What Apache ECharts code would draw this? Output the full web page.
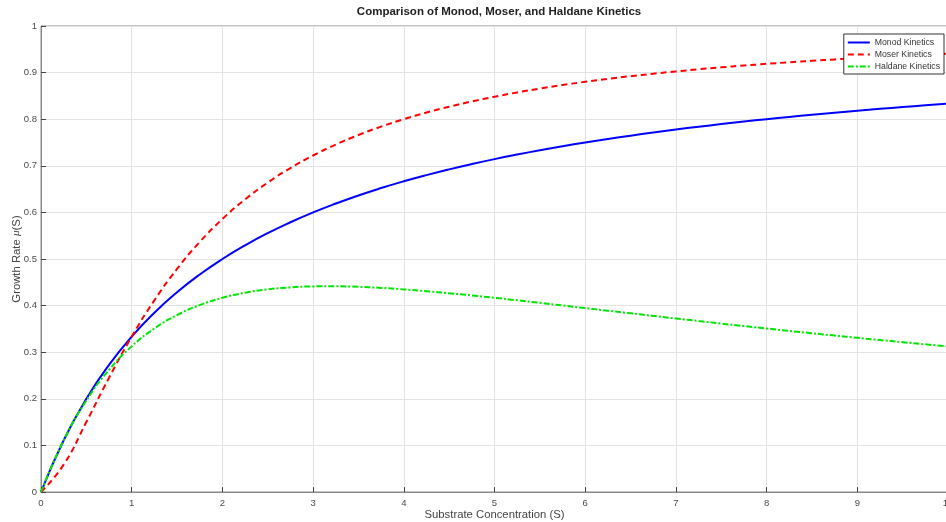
<!DOCTYPE html>
<html>
<head>
<meta charset="utf-8">
<script src="https://cdn.jsdelivr.net/npm/echarts@6/dist/echarts.min.js"></script>
<style>html,body{margin:0;padding:0;background:#fff;}#c{width:946px;height:522px;}</style>
</head>
<body>
<div id="c"></div>
<script>
const sValues = [0,0.25,0.5,0.75,1,1.25,1.5,1.75,2,2.25,2.5,2.75,3,3.25,3.5,3.75,4,4.25,4.5,4.75,5,5.25,5.5,5.75,6,6.25,6.5,6.75,7,7.25,7.5,7.75,8,8.25,8.5,8.75,9,9.25,9.5,9.75,10];
const monod = [0,0.1111,0.2,0.2727,0.3333,0.3846,0.4286,0.4667,0.5,0.5294,0.5556,0.5789,0.6,0.6190,0.6364,0.6522,0.6667,0.68,0.6923,0.7037,0.7143,0.7241,0.7333,0.7419,0.75,0.7576,0.7647,0.7714,0.7778,0.7838,0.7895,0.7949,0.8,0.8049,0.8095,0.8140,0.8182,0.8222,0.8261,0.8298,0.8333];
const moser = [0,0.0588,0.1502,0.2451,0.3333,0.4113,0.4788,0.5365,0.5858,0.6279,0.6640,0.6951,0.7221,0.7455,0.7660,0.7841,0.8,0.8142,0.8268,0.8381,0.8483,0.8574,0.8658,0.8733,0.8802,0.8865,0.8923,0.8976,0.9025,0.9071,0.9113,0.9152,0.9188,0.9222,0.9253,0.9283,0.9310,0.9336,0.9361,0.9384,0.9405];
const haldane = [0,0.1105,0.1961,0.2620,0.3125,0.3509,0.3797,0.4011,0.4167,0.4276,0.4348,0.4391,0.4412,0.4414,0.4403,0.4380,0.4348,0.4309,0.4265,0.4218,0.4167,0.4114,0.4059,0.4003,0.3947,0.3891,0.3835,0.3779,0.3723,0.3669,0.3614,0.3561,0.3509,0.3457,0.3407,0.3357,0.3309,0.3261,0.3215,0.3169,0.3125];
const seriesNames = ['Monod Kinetics','Moser Kinetics','Haldane Kinetics'];
const titleText = 'Comparison of Monod, Moser, and Haldane Kinetics';

const pair = (ys) => sValues.map((x, i) => [x, ys[i]]);
const axisCol = '#888888';
const labelCol = '#4a4a4a';
const FONT = 'Liberation Sans, Arial, sans-serif';
const chart = echarts.init(document.getElementById('c'), null, {renderer: 'canvas'});
chart.setOption({
  animation: false,
  backgroundColor: '#ffffff',
  title: {
    text: titleText, left: 494, top: 1, textAlign: 'center',
    textStyle: {fontFamily: FONT, fontSize: 11.5, fontWeight: 'bold', color: '#222'}
  },
  legend: {
    show: true,
    orient: 'vertical', right: 2, top: 34,
    itemWidth: 22, itemHeight: 8, itemGap: 3,
    padding: [4, 4, 3, 3],
    borderColor: '#333', borderWidth: 1, backgroundColor: '#fff',
    itemStyle: {opacity: 0},
    textStyle: {fontFamily: FONT, fontSize: 8.7, color: '#333'},
    data: seriesNames,
    z: 10
  },
  grid: {left: 41, right: -2, top: 26, bottom: 30, show: true, borderColor: axisCol, borderWidth: 1, containLabel: false, outerBoundsMode: 'none'},
  xAxis: {
    type: 'value', min: 0, max: 10, interval: 1,
    name: 'Substrate Concentration (S)', nameLocation: 'middle', nameGap: 17, nameMoveOverlap: false,
    nameTextStyle: {fontFamily: FONT, fontSize: 11.3, color: '#444'},
    axisLine: {show: true, lineStyle: {color: axisCol, width: 1}},
    axisTick: {show: true, inside: true, length: 5, lineStyle: {color: '#444'}},
    axisLabel: {fontFamily: FONT, fontSize: 9.5, color: labelCol, margin: 6},
    splitLine: {show: true, lineStyle: {color: '#e3e3e3', width: 1}}
  },
  yAxis: {
    type: 'value', min: 0, max: 1, interval: 0.1,
    name: 'Growth Rate {i|μ}(S)', nameLocation: 'middle', nameGap: 19, nameRotate: 90, nameMoveOverlap: false,
    nameTextStyle: {fontFamily: FONT, fontSize: 11.3, color: '#444',
      rich: {i: {fontStyle: 'italic', fontFamily: 'Liberation Serif, serif', fontSize: 11.3, color: '#444'}}},
    axisLine: {show: true, lineStyle: {color: axisCol, width: 1}},
    axisTick: {show: true, inside: true, length: 5, lineStyle: {color: '#444'}},
    axisLabel: {fontFamily: FONT, fontSize: 9.5, color: labelCol, margin: 4,
      formatter: v => String(Math.round(v * 10) / 10)},
    splitLine: {show: true, lineStyle: {color: '#e3e3e3', width: 1}}
  },
  series: [
    {name: seriesNames[0], type: 'line', data: pair(monod), smooth: true, symbol: 'none',
     lineStyle: {color: '#0000ff', width: 2, type: 'solid'}, itemStyle: {color: '#0000ff'}},
    {name: seriesNames[1], type: 'line', data: pair(moser), smooth: true, symbol: 'none',
     lineStyle: {color: '#ff0000', width: 2, type: [6, 4]}, itemStyle: {color: '#ff0000'}},
    {name: seriesNames[2], type: 'line', data: pair(haldane), smooth: true, symbol: 'none',
     lineStyle: {color: '#00e600', width: 2, type: [6, 2, 2, 2]}, itemStyle: {color: '#00e600'}}
  ]
});
</script>
</body>
</html>
